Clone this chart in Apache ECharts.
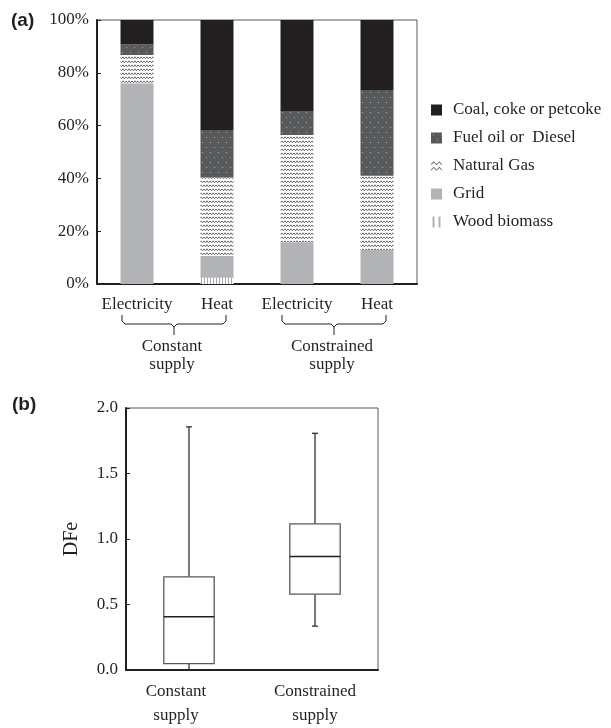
<!DOCTYPE html>
<html><head><meta charset="utf-8">
<script src="https://cdn.jsdelivr.net/npm/echarts@6/dist/echarts.min.js"></script>
<style>html,body{margin:0;padding:0;background:#fff}#c{width:611px;height:728px}</style>
</head><body><div id="c"></div>
<script>
// ---- data: panel (a) ----
const barCategories = ['Electricity', 'Heat', 'Electricity', 'Heat'];
const groupLabels = ['Constant\nsupply', 'Constrained\nsupply'];
const coal = [9.2, 41.7, 34.5, 26.5];
const fuelOil = [4.1, 18.0, 9.1, 32.5];
const naturalGas = [10.7, 29.7, 40.6, 28.1];
const gridPower = [76.0, 8.2, 15.8, 12.9];
const wood = [0, 2.4, 0, 0];
const seriesNames = ['Coal, coke or petcoke', 'Fuel oil or  Diesel', 'Natural Gas', 'Grid', 'Wood biomass'];
// ---- data: panel (b) ----
const boxCategories = ['Constant\nsupply', 'Constrained\nsupply'];
const boxMin = [0.0, 0.335];
const boxQ1 = [0.048, 0.579];
const boxMedian = [0.407, 0.866];
const boxQ3 = [0.711, 1.115];
const boxMax = [1.856, 1.807];

const FONT = 'Liberation Serif';
const INK = '#231f20';

function makeCanvas(w, h, draw) {
  const c = document.createElement('canvas');
  c.width = w; c.height = h;
  draw(c.getContext('2d'));
  return c;
}
const ngPattern = makeCanvas(6, 4, g => {
  g.fillStyle = '#fff'; g.fillRect(0, 0, 6, 4);
  g.strokeStyle = '#6d6e71'; g.lineWidth = 1;
  g.beginPath(); g.moveTo(0, 0.8); g.lineTo(1.5, 2.8); g.lineTo(3, 0.8); g.lineTo(4.5, 2.8); g.lineTo(6, 0.8); g.stroke();
});
const fuelPattern = makeCanvas(8, 10, g => {
  g.fillStyle = '#58595b'; g.fillRect(0, 0, 8, 10);
  g.fillStyle = '#a7a9ac'; g.fillRect(2, 2, 1, 1); g.fillRect(6, 7, 1, 1);
});
const woodPattern = makeCanvas(3, 2, g => {
  g.fillStyle = '#fff'; g.fillRect(0, 0, 3, 2);
  g.fillStyle = '#a7a9ac'; g.fillRect(0, 0, 1, 2);
});

const chart = echarts.init(document.getElementById('c'), null, { renderer: 'canvas' });

const axisText = { fontFamily: FONT, fontSize: 17, color: INK };

function barSeries(name, data, color) {
  return {
    name: name, type: 'bar', stack: 'mix', xAxisIndex: 0, yAxisIndex: 0,
    barWidth: 33, data: data, itemStyle: { color: color }, emphasis: { disabled: true }
  };
}

const option = {
  animation: false,
  backgroundColor: '#fff',
  grid: [
    { left: 97, top: 20, width: 320, height: 264, show: true, borderColor: '#58595b', borderWidth: 1 },
    { left: 126, top: 408, width: 252, height: 268, show: true, borderColor: '#58595b', borderWidth: 1 }
  ],
  legend: {
    orient: 'vertical', left: 426, top: 96, itemWidth: 11, itemHeight: 11, itemGap: 10,
    selectedMode: false,
    textStyle: { fontFamily: FONT, fontSize: 17, color: INK, lineHeight: 18, padding: [0, 0, 0, 6] },
    data: [
      { name: seriesNames[0], icon: 'rect' },
      { name: seriesNames[1], icon: 'rect' },
      { name: seriesNames[2], icon: 'path://M0,3 L2.5,0.5 L5,3 L7.5,0.5 L10,3 L10,4.3 L7.5,1.8 L5,4.3 L2.5,1.8 L0,4.3 Z M0,8 L2.5,5.5 L5,8 L7.5,5.5 L10,8 L10,9.3 L7.5,6.8 L5,9.3 L2.5,6.8 L0,9.3 Z', itemStyle: { color: '#6d6e71' } },
      { name: seriesNames[3], icon: 'rect' },
      { name: seriesNames[4], icon: 'path://M1,0 L3,0 L3,11 L1,11 Z M7,0 L9,0 L9,11 L7,11 Z', itemStyle: { color: '#b1b3b6' } }
    ]
  },
  xAxis: [
    {
      gridIndex: 0, type: 'category', data: barCategories,
      axisLine: { lineStyle: { color: INK, width: 2 } },
      axisTick: { inside: true, length: 4, interval: 0, lineStyle: { color: INK } },
      axisLabel: Object.assign({ margin: 12, interval: 0 }, axisText),
      splitLine: { show: false }
    },
    {
      gridIndex: 1, type: 'category',
      data: boxCategories.map((c, i) => i === 0 ? { value: c, textStyle: { padding: [0, 26, 0, 0] } } : c),
      axisLine: { lineStyle: { color: INK, width: 2 } },
      axisTick: { inside: false, length: 4, interval: 0, lineStyle: { color: INK } },
      axisLabel: Object.assign({ margin: 10, interval: 0, lineHeight: 24 }, axisText),
      splitLine: { show: false }
    }
  ],
  yAxis: [
    {
      gridIndex: 0, type: 'value', min: 0, max: 100, interval: 20,
      axisLine: { show: true, lineStyle: { color: INK, width: 2 } },
      axisTick: { show: true, inside: true, length: 4, lineStyle: { color: INK } },
      axisLabel: Object.assign({ margin: 8, formatter: '{value}%' }, axisText),
      splitLine: { show: false }
    },
    {
      gridIndex: 1, type: 'value', min: 0, max: 2, interval: 0.5,
      name: 'DFe', nameLocation: 'middle', nameGap: 44, nameRotate: 90,
      nameTextStyle: { fontFamily: FONT, fontSize: 20, color: INK },
      axisLine: { show: true, lineStyle: { color: INK, width: 2 } },
      axisTick: { show: true, inside: true, length: 4, lineStyle: { color: INK } },
      axisLabel: Object.assign({ margin: 8, formatter: v => v.toFixed(1) }, axisText),
      splitLine: { show: false }
    }
  ],
  series: [
    barSeries(seriesNames[4], wood, { image: woodPattern, repeat: 'repeat' }),
    barSeries(seriesNames[3], gridPower, '#b1b3b6'),
    barSeries(seriesNames[2], naturalGas, { image: ngPattern, repeat: 'repeat' }),
    barSeries(seriesNames[1], fuelOil, { image: fuelPattern, repeat: 'repeat' }),
    barSeries(seriesNames[0], coal, INK),
    {
      type: 'custom', xAxisIndex: 1, yAxisIndex: 1,
      data: boxCategories.map((c, i) => [i, boxMin[i], boxQ1[i], boxMedian[i], boxQ3[i], boxMax[i]]),
      encode: { x: 0, y: [1, 2, 3, 4, 5] },
      renderItem: function (params, api) {
        const i = api.value(0);
        const pMin = api.coord([i, api.value(1)]);
        const pQ1 = api.coord([i, api.value(2)]);
        const pMed = api.coord([i, api.value(3)]);
        const pQ3 = api.coord([i, api.value(4)]);
        const pMax = api.coord([i, api.value(5)]);
        const band = api.size([1, 0])[0];
        const w = band * 0.4;
        const x = pMed[0];
        const lineStyle = { stroke: INK, lineWidth: 1.2 };
        const cap = 3;
        return {
          type: 'group',
          children: [
            { type: 'line', shape: { x1: x, y1: pQ3[1], x2: x, y2: pMax[1] }, style: lineStyle },
            { type: 'line', shape: { x1: x - cap, y1: pMax[1], x2: x + cap, y2: pMax[1] }, style: lineStyle },
            { type: 'line', shape: { x1: x, y1: pQ1[1], x2: x, y2: pMin[1] }, style: lineStyle },
            { type: 'line', shape: { x1: x - cap, y1: pMin[1], x2: x + cap, y2: pMin[1] }, style: lineStyle },
            { type: 'rect', shape: { x: x - w / 2, y: pQ3[1], width: w, height: pQ1[1] - pQ3[1] },
              style: { fill: '#fff', stroke: '#58595b', lineWidth: 1.3 } },
            { type: 'line', shape: { x1: x - w / 2, y1: pMed[1], x2: x + w / 2, y2: pMed[1] }, style: { stroke: INK, lineWidth: 1.5 } }
          ]
        };
      }
    }
  ]
};
chart.setOption(option);

// brackets + group labels under panel (a), positioned from the axis scale
const y0 = chart.convertToPixel({ yAxisIndex: 0 }, 0);
const graphics = [
  { type: 'text', left: 11, top: 11, style: { text: '(a)', font: 'bold 19px "Liberation Sans"', fill: INK } },
  { type: 'text', left: 12, top: 395, style: { text: '(b)', font: 'bold 19px "Liberation Sans"', fill: INK } }
];
groupLabels.forEach((label, g) => {
  const cL = chart.convertToPixel({ xAxisIndex: 0 }, g * 2);
  const cR = chart.convertToPixel({ xAxisIndex: 0 }, g * 2 + 1);
  const left = cL - 15, right = cR + 9, mid = (left + right) / 2;
  const top = y0 + 31, hy = y0 + 40, tip = y0 + 51;
  const st = { stroke: INK, lineWidth: 1, fill: null };
  graphics.push({ type: 'polyline', shape: { points: [[left, top], [left, hy - 3], [left + 3, hy], [mid - 3, hy], [mid, hy + 3], [mid, tip]] }, style: st });
  graphics.push({ type: 'polyline', shape: { points: [[right, top], [right, hy - 3], [right - 3, hy], [mid + 3, hy], [mid, hy + 3]] }, style: st });
  graphics.push({ type: 'text', x: mid - 2, y: y0 + 54, style: { text: label, fontFamily: FONT, fontSize: 17, lineHeight: 18, fill: INK, align: 'center', verticalAlign: 'top' } });
});
chart.setOption({ graphic: graphics });
</script>
</body></html>
